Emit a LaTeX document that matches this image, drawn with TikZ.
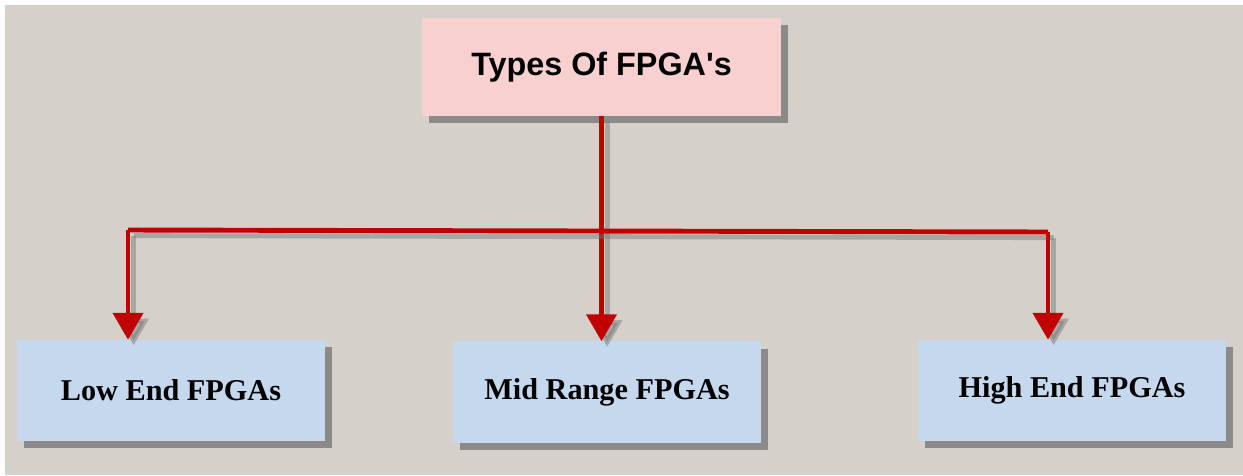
\documentclass[tikz,border=0pt]{standalone}
\usepackage{fontspec}
\setmainfont{Liberation Serif}
\setsansfont{Liberation Sans}
\usetikzlibrary{arrows.meta,shadows}
\definecolor{bgbeige}{RGB}{213,208,202}
\definecolor{toppink}{RGB}{248,208,208}
\definecolor{leafblue}{RGB}{197,216,238}
\definecolor{linkred}{RGB}{192,0,0}
\begin{document}
\begin{tikzpicture}[x=0.025cm,y=-0.025cm]
	\tikzset{
		box/.style={minimum width=7.7cm,minimum height=2.525cm,inner sep=0pt,
			drop shadow={shadow xshift=5pt,shadow yshift=-5pt,fill=black!60,opacity=.65}},
		topbox/.style={box,fill=toppink,minimum width=8.975cm,minimum height=2.45cm,
			font=\sffamily\bfseries\fontsize{23}{27}\selectfont},
		leafbox/.style={box,fill=leafblue,font=\bfseries\fontsize{21.5}{25}\selectfont},
		link/.style={linkred,line width=3.5pt,
			preaction={draw=black!55,opacity=.45,line width=3.5pt,
				transform canvas={shift={(4pt,-4pt)}}}},
		arrowlink/.style={link,-{Triangle[width=21pt,length=19pt]}}
	}
	\useasboundingbox (0,0) rectangle (1243,475);
	\fill[white] (0,0) rectangle (1243,475);
	\fill[bgbeige] (5,5) rectangle (1243,475);
	
	\node[topbox] (types) at (601.5,67) {Types Of FPGA\textquotesingle s};
	\node[leafbox] (low) at (171,390.5) {Low End FPGAs};
	\node[leafbox] (mid) at (607,392) {Mid Range FPGAs};
	\node[leafbox] (high) at (1072,390.5) {High End FPGAs};
	
	\coordinate (jleft) at (128,230);
	\coordinate (jright) at (1048,232);
	
	\draw[arrowlink] (types.south) -- (types.south |- mid.north);
	\draw[link] (jleft) -- (jright);
	\draw[arrowlink] (jleft) -- (jleft |- low.north);
	\draw[arrowlink] (jright) -- (jright |- high.north);
	
\end{tikzpicture}
\end{document}
